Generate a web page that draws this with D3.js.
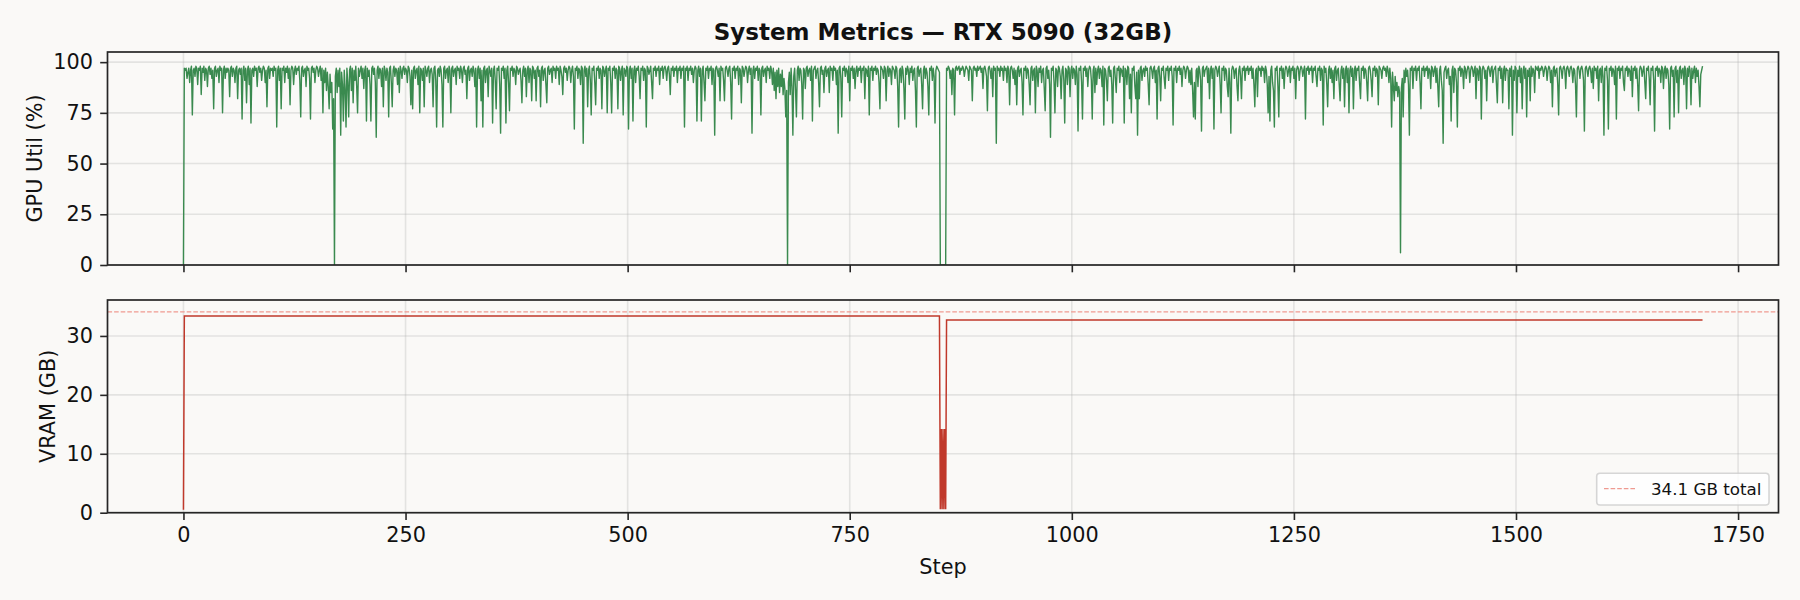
<!DOCTYPE html>
<html><head><meta charset="utf-8">
<script src="https://cdn.jsdelivr.net/npm/d3@7"></script>
<style>html,body{margin:0;padding:0;background:#faf9f7}</style>
</head><body><svg id="chart" width="1800" height="600"></svg>
<script>
// GPU utilisation (%) per step (steps 0..1710)
const gpuUtil = [
0,97,96,97,92,95,97,90,96,98,74,96,97,93,98,97,89,97,96,98,84,97,95,98,91,97,96,88,97,98,94,97,92,96,77,97,98,93,96,97,90,98,96,97,75,96,98,92,97,95,
97,96,83,97,98,93,97,96,90,97,98,82,96,97,94,97,72,96,98,91,97,80,96,98,89,97,70,96,97,93,98,96,97,88,97,98,95,97,91,96,98,97,90,96,78,97,98,92,97,96,
97,93,98,96,97,68,96,98,91,97,77,97,96,98,90,97,95,98,92,97,79,96,98,97,89,96,98,94,97,96,98,91,73,97,98,93,96,97,88,98,96,97,92,72,97,98,95,97,90,96,
98,97,93,96,98,91,97,75,96,90,97,86,95,88,77,94,85,90,67,82,0,93,97,85,96,88,97,64,95,89,71,96,87,68,97,90,73,96,98,86,97,80,96,91,98,88,75,97,93,96,
98,92,97,87,96,98,71,97,93,96,89,71,97,98,94,97,90,63,96,98,92,97,96,88,97,78,98,96,91,97,95,73,97,98,90,78,96,98,93,97,96,89,97,85,98,96,92,97,98,94,
97,96,90,98,97,93,79,96,77,97,98,92,96,97,89,98,75,97,96,91,97,78,98,96,93,97,98,90,96,97,94,78,97,98,91,68,96,97,93,98,96,89,68,97,98,92,96,97,90,98,
96,75,97,98,93,96,97,89,98,96,97,92,98,96,90,97,98,94,96,82,97,98,91,96,97,93,98,96,88,97,68,96,98,92,97,81,96,68,97,98,90,96,97,83,98,96,93,97,70,96,
98,91,77,97,96,98,89,65,97,96,98,92,97,70,96,98,90,76,97,96,98,93,97,96,89,98,97,94,96,97,91,80,96,98,93,97,83,96,98,90,97,96,81,98,97,92,96,81,97,98,
93,96,78,97,98,91,96,97,89,80,97,98,94,96,97,90,98,96,97,92,98,96,97,89,98,96,93,84,97,98,95,97,91,96,98,97,90,96,98,93,67,97,96,98,92,97,96,89,98,97,
60,96,98,93,97,78,96,98,91,74,97,96,98,90,79,97,96,98,92,97,96,77,98,97,93,96,98,75,97,96,98,90,75,97,96,98,92,97,96,77,98,97,91,96,98,74,97,96,93,98,
97,67,96,98,92,97,71,96,98,90,97,96,98,93,82,97,96,98,91,97,96,68,98,97,94,96,98,90,82,97,96,98,93,97,96,98,89,97,96,98,92,97,98,96,91,97,98,94,84,97,
96,98,93,97,96,98,90,97,96,98,92,97,96,98,68,97,96,98,91,97,96,98,94,97,90,96,98,97,71,96,98,93,97,71,96,98,90,81,97,96,98,92,97,96,98,89,97,96,64,97,
98,96,93,97,81,98,96,97,91,81,97,98,96,93,97,98,90,72,97,96,98,92,97,96,98,89,97,96,80,98,97,93,96,98,97,90,96,98,94,97,65,96,98,92,97,96,98,91,97,96,
74,97,98,93,96,97,90,98,96,97,92,98,96,89,97,86,95,82,96,88,97,85,94,88,96,84,92,87,73,86,0,90,95,84,97,88,64,93,97,86,73,96,98,91,97,96,89,72,97,96,
87,97,98,93,96,97,91,98,71,96,97,98,92,96,97,90,78,97,98,94,96,85,97,98,93,96,97,85,98,96,97,91,98,96,97,89,96,65,97,98,92,73,97,96,98,93,97,96,90,98,
81,97,96,98,92,97,87,96,98,93,97,96,98,90,97,96,98,82,97,96,93,98,74,97,96,98,91,97,96,98,94,97,96,90,77,98,97,96,92,98,97,81,96,98,93,97,96,89,98,97,
96,92,98,97,88,68,96,97,90,98,96,87,72,97,94,98,96,89,97,95,98,91,96,97,86,68,97,98,93,96,97,89,77,96,98,92,97,95,88,74,97,96,98,91,97,93,70,96,98,97,
96,95,0,0,0,0,0,0,0,97,96,98,97,92,96,84,97,96,74,97,98,96,97,98,94,97,96,98,97,93,96,98,97,96,91,98,97,96,81,97,98,96,97,93,98,96,97,98,95,97,
87,97,98,96,93,76,97,98,96,92,97,83,98,96,97,60,98,96,97,93,98,96,97,91,98,96,97,90,98,96,79,97,98,96,92,97,89,96,79,97,98,93,96,97,90,74,97,96,98,92,
97,96,89,79,97,98,91,96,97,75,98,96,88,97,95,98,90,96,97,87,76,97,98,92,96,89,63,97,96,98,90,75,97,96,88,98,97,93,82,96,98,91,70,97,96,89,98,97,83,96,
98,92,97,96,89,98,94,66,97,96,98,90,72,97,96,98,93,97,88,96,98,97,91,72,96,98,85,97,89,96,98,92,97,96,88,98,69,97,96,91,81,97,98,93,96,89,70,97,98,92,
85,97,96,98,90,97,96,93,98,70,97,96,89,98,97,82,94,75,97,96,98,88,82,95,64,96,82,97,98,91,96,97,93,98,96,97,89,79,97,98,96,92,97,98,90,96,72,97,98,93,
81,97,96,98,92,87,97,96,98,91,97,96,98,93,69,97,96,98,90,97,96,98,94,97,88,96,98,97,92,96,98,97,90,96,89,97,86,73,90,72,96,97,88,98,96,91,66,97,98,93,
96,97,98,90,97,82,96,98,92,97,67,96,98,97,93,96,98,89,75,97,96,98,91,97,96,88,83,97,90,65,96,98,97,92,96,97,88,81,96,98,93,82,97,96,98,91,97,96,98,94,
97,96,98,92,97,89,78,96,97,83,98,96,97,93,98,96,97,90,98,96,89,75,93,71,96,98,90,86,68,97,96,98,88,73,97,96,98,92,97,87,96,98,97,93,96,98,90,97,96,98,
92,97,82,96,98,97,91,96,98,97,93,96,98,72,97,96,98,94,97,96,98,90,97,96,98,93,88,97,96,98,91,97,96,69,98,95,97,89,78,96,98,92,97,90,96,82,97,98,91,96,
97,89,81,96,98,92,97,78,96,98,90,97,75,96,98,93,97,77,96,98,91,97,96,98,89,82,97,96,98,92,97,96,90,81,97,98,96,91,83,97,96,98,93,97,96,79,98,97,96,92,
97,98,96,97,93,98,96,90,97,92,68,95,88,81,93,86,90,83,88,85,6,87,92,73,96,90,97,93,96,89,64,97,96,98,87,97,96,98,91,97,96,98,90,77,97,96,98,93,97,96,
98,92,97,96,87,98,97,93,96,98,90,97,88,78,96,98,91,86,60,95,97,98,92,96,97,89,93,71,96,98,85,97,96,90,68,97,96,98,93,97,96,87,98,97,92,96,98,97,90,96,
98,97,93,96,98,82,97,96,91,98,97,72,96,98,97,92,96,81,97,98,96,93,97,98,90,96,97,98,89,80,97,96,98,92,97,80,96,98,91,97,96,96,77,97,93,98,64,96,91,98,
97,75,96,93,98,90,97,77,96,98,92,97,73,96,93,97,81,98,93,97,96,85,98,97,96,98,92,97,96,98,97,93,96,98,97,91,96,98,97,90,96,78,97,98,93,96,97,89,74,97,
98,96,92,97,98,96,87,97,98,96,93,97,98,96,90,97,96,89,73,97,98,96,92,97,98,96,91,66,97,98,96,93,97,98,96,90,97,87,98,96,97,92,98,81,96,97,90,98,93,64,
97,96,98,91,67,97,96,98,93,97,96,89,98,72,97,96,98,92,97,96,98,90,86,97,96,98,93,97,96,91,98,83,97,96,98,92,97,89,76,96,98,97,93,96,98,90,82,97,96,98,
92,79,97,96,98,91,66,97,96,98,93,97,96,90,98,97,87,96,98,92,97,96,89,67,97,98,93,96,73,97,98,90,96,75,97,98,92,96,97,89,98,96,77,97,93,98,96,79,97,92,
96,98,90,97,93,96,88,78,94,96,98
];
// VRAM (GB): change points
const vramSteps = [0, 1, 851, 852, 853, 854, 855, 856, 857, 858, 859, 1710];
const vramGB    = [0.5, 33.4, 33.4, 0.6, 14.2, 0.6, 14.2, 0.6, 14.2, 0.6, 32.7, 32.7];
const vramTotal = 34.1;
const xTicks = [0, 250, 500, 750, 1000, 1250, 1500, 1750];
const gpuTicks = [0, 25, 50, 75, 100];
const vramTicks = [0, 10, 20, 30];
const titleText = "System Metrics — RTX 5090 (32GB)";
const gpuLabel = "GPU Util (%)";
const vramLabel = "VRAM (GB)";
const xLabel = "Step";
const legendText = "34.1 GB total";

const W = 1800, H = 600;
const L = 107.5, R = 1778.5;
const P1 = {top: 52, bot: 265};
const P2 = {top: 300, bot: 512.7};
const bg = "#faf9f7";
const spineColor = "#262626";
const font = "DejaVu Sans, sans-serif";
const fs = 20.8;

const svg = d3.select("#chart");
svg.append("rect").attr("width", W).attr("height", H).attr("fill", bg);

const x = d3.scaleLinear().domain([-85.5, 1795.5]).range([L, R]);
const yG = d3.scaleLinear().domain([0, 105]).range([P1.bot, P1.top]);
const yV = d3.scaleLinear().domain([0, 36.1]).range([P2.bot, P2.top]);

const defs = svg.append("defs");
[["c1", P1], ["c2", P2]].forEach(([id, p]) => {
  defs.append("clipPath").attr("id", id).append("rect")
    .attr("x", L).attr("y", p.top).attr("width", R - L).attr("height", p.bot - p.top);
});

function panel(p, y, yTicks, clipId, showXLabels) {
  const g = svg.append("g");
  g.append("rect").attr("x", L).attr("y", p.top).attr("width", R - L).attr("height", p.bot - p.top).attr("fill", bg);
  const grid = g.append("g").attr("stroke", "#b0b0b0").attr("stroke-opacity", 0.3).attr("stroke-width", 1.6);
  xTicks.forEach(t => grid.append("line").attr("x1", x(t)).attr("x2", x(t)).attr("y1", p.top).attr("y2", p.bot));
  yTicks.forEach(t => grid.append("line").attr("x1", L).attr("x2", R).attr("y1", y(t)).attr("y2", y(t)));
  const plot = g.append("g").attr("clip-path", `url(#${clipId})`);
  const ax = g.append("g").attr("transform", `translate(0,${p.bot})`)
    .call(d3.axisBottom(x).tickValues(xTicks).tickSize(7.3).tickPadding(7.3)
      .tickFormat(showXLabels ? d3.format("d") : () => ""));
  const ay = g.append("g").attr("transform", `translate(${L},0)`)
    .call(d3.axisLeft(y).tickValues(yTicks).tickSize(7.3).tickPadding(7.3).tickFormat(d3.format("d")));
  [ax, ay].forEach(a => {
    a.select(".domain").remove();
    a.selectAll("line").attr("stroke", spineColor).attr("stroke-width", 1.6);
    a.selectAll("text").attr("font-family", font).attr("font-size", fs).attr("fill", "#111");
  });
  g.append("rect").attr("x", L).attr("y", p.top).attr("width", R - L).attr("height", p.bot - p.top)
    .attr("fill", "none").attr("stroke", spineColor).attr("stroke-width", 1.7);
  return plot;
}

const plot1 = panel(P1, yG, gpuTicks, "c1", false);
const plot2 = panel(P2, yV, vramTicks, "c2", true);

plot1.append("path").datum(gpuUtil)
  .attr("fill", "none").attr("stroke", "#3a8a4f").attr("stroke-width", 1.4).attr("stroke-linejoin", "round")
  .attr("d", d3.line().x((d, i) => x(i)).y(d => yG(d)));

plot2.append("line").attr("x1", L).attr("x2", R).attr("y1", yV(vramTotal)).attr("y2", yV(vramTotal))
  .attr("stroke", "#ef9a91").attr("stroke-width", 1.2).attr("stroke-dasharray", "4.6,2");

plot2.append("path").datum(vramSteps.map((s, i) => [s, vramGB[i]]))
  .attr("fill", "none").attr("stroke", "#c0392b").attr("stroke-width", 1.5).attr("stroke-linejoin", "miter")
  .attr("d", d3.line().x(d => x(d[0])).y(d => yV(d[1])));

svg.append("text").attr("x", (L + R) / 2).attr("y", 39.5).attr("text-anchor", "middle")
  .attr("font-family", font).attr("font-weight", "bold").attr("font-size", 23).attr("fill", "#111").text(titleText);
svg.append("text").attr("transform", `translate(42,${(P1.top + P1.bot) / 2}) rotate(-90)`).attr("text-anchor", "middle")
  .attr("font-family", font).attr("font-size", fs).attr("fill", "#111").text(gpuLabel);
svg.append("text").attr("transform", `translate(54.5,${(P2.top + P2.bot) / 2}) rotate(-90)`).attr("text-anchor", "middle")
  .attr("font-family", font).attr("font-size", fs).attr("fill", "#111").text(vramLabel);
svg.append("text").attr("x", (L + R) / 2).attr("y", 574).attr("text-anchor", "middle")
  .attr("font-family", font).attr("font-size", fs).attr("fill", "#111").text(xLabel);

const lg = svg.append("g");
lg.append("rect").attr("x", 1596.7).attr("y", 473.3).attr("width", 172.3).attr("height", 31.7).attr("rx", 3.3)
  .attr("fill", "#ffffff").attr("fill-opacity", 0.8).attr("stroke", "#cccccc").attr("stroke-opacity", 0.8).attr("stroke-width", 1.6);
lg.append("line").attr("x1", 1604).attr("x2", 1637).attr("y1", 488.7).attr("y2", 488.7)
  .attr("stroke", "#ef9a91").attr("stroke-width", 1.2).attr("stroke-dasharray", "4.6,2");
lg.append("text").attr("x", 1651).attr("y", 494.7).attr("font-family", font).attr("font-size", 16.7).attr("fill", "#111").text(legendText);
</script></body></html>
